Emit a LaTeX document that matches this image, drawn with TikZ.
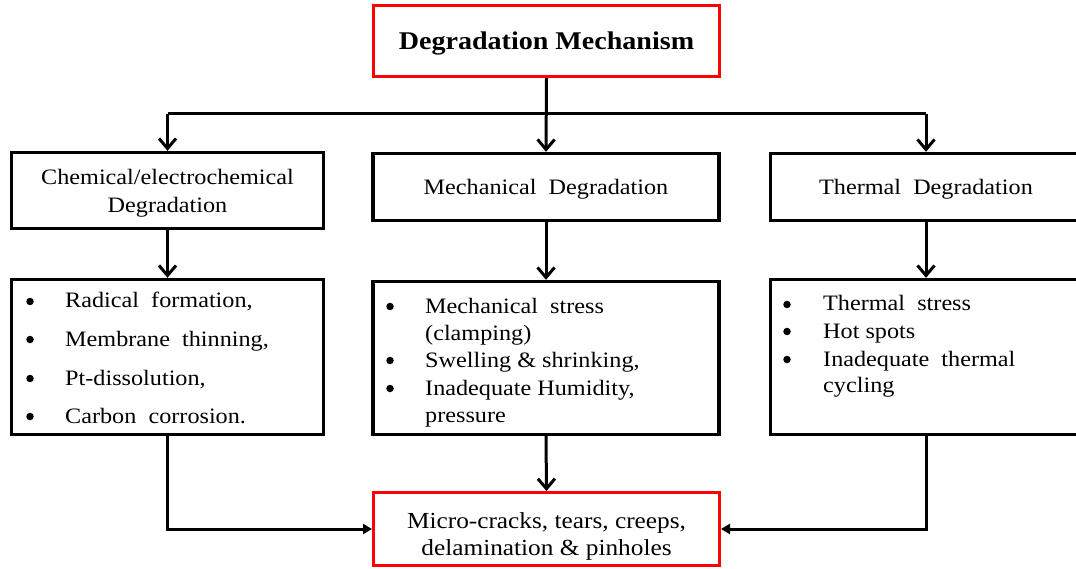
\documentclass[tikz,border=0pt]{standalone}
\usepackage{fontspec}
\usepackage{graphicx}
\setmainfont{Liberation Serif}
\usetikzlibrary{arrows.meta}

% text is set slightly wide
\newcommand\wide[1]{\scalebox{1.1}[1]{#1}}

\tikzset{
  box/.style={draw=black, line width=3.4pt, rectangle, inner sep=0pt, fill=white},
  redbox/.style={draw=red, line width=3pt, rectangle, inner sep=0pt, fill=white},
  txt/.style={inner sep=0pt, font=\fontsize{22}{27}\selectfont},
  dot/.style={circle, fill=black, inner sep=0pt, minimum size=7.5pt},
  conn/.style={line width=3pt},
  arr/.style={line width=3pt, -{Straight Barb[length=10pt,width=17pt]}},
  sidearr/.style={line width=3pt, -{Triangle[length=9pt,width=10pt]}},
}

\begin{document}
\begin{tikzpicture}[x=1pt, y=-1pt]
\path[use as bounding box, clip] (0,0) rectangle (1076,569);

% boxes
\node[redbox, minimum width=346pt, minimum height=71pt] (top) at (546.5,41) {};
\node[box, minimum width=312pt, minimum height=76pt] (chem) at (167.5,190.5) {};
\node[box, minimum width=346pt, minimum height=67pt] (mech) at (546,187) {};
\node[box, minimum width=311pt, minimum height=67pt] (therm) at (926,187) {};
\node[box, minimum width=312pt, minimum height=155pt] (chemlist) at (167.5,357) {};
\node[box, minimum width=346pt, minimum height=153pt] (mechlist) at (546,358) {};
\node[box, minimum width=311pt, minimum height=155pt] (thermlist) at (926,357) {};
\node[redbox, minimum width=346pt, minimum height=73pt] (result) at (546.5,529) {};

% titles
\node[inner sep=0pt, anchor=base, font=\fontsize{25.5}{30}\selectfont\bfseries] (ttop) at (546.5,50) {\wide{Degradation Mechanism}};
\node[txt, anchor=base] (tchem1) at (167.5,185) {\wide{Chemical/electrochemical}};
\node[txt, anchor=base] (tchem2) at (167.5,213) {\wide{Degradation}};
\node[txt, anchor=base] (tmech) at (546,195) {\wide{Mechanical\ \ Degradation}};
\node[txt, anchor=base] (ttherm) at (926,195) {\wide{Thermal\ \ Degradation}};

% chemical list
\foreach \yy/\t [count=\i] in {308/{Radical\ \ formation,}, 346/{Membrane\ \ thinning,}, 385/{Pt-dissolution,}, 423/{Carbon\ \ corrosion.}} {
  \node[dot] (cb\i) at (30,\yy-6.5) {};
  \node[txt, anchor=base west] (ci\i) at (65,\yy) {\wide{\t}};
}

% mechanical list
\node[dot] (mb1) at (390,306.5) {};
\node[txt, anchor=base west] (mi1) at (425,313) {\wide{Mechanical\ \ stress}};
\node[txt, anchor=base west] (mi1b) at (425,340) {\wide{(clamping)}};
\node[dot] (mb2) at (390,360.5) {};
\node[txt, anchor=base west] (mi2) at (425,367) {\wide{Swelling \& shrinking,}};
\node[dot] (mb3) at (390,388.5) {};
\node[txt, anchor=base west] (mi3) at (425,395) {\wide{Inadequate Humidity,}};
\node[txt, anchor=base west] (mi3b) at (425,422) {\wide{pressure}};

% thermal list
\node[dot] (tb1) at (787,304.5) {};
\node[txt, anchor=base west] (ti1) at (823,311) {\wide{Thermal\ \ stress}};
\node[dot] (tb2) at (787,331.5) {};
\node[txt, anchor=base west] (ti2) at (823,338) {\wide{Hot spots}};
\node[dot] (tb3) at (787,359.5) {};
\node[txt, anchor=base west] (ti3) at (823,366) {\wide{Inadequate\ \ thermal}};
\node[txt, anchor=base west] (ti3b) at (823,392) {\wide{cycling}};

% result text
\node[inner sep=0pt, anchor=base, font=\fontsize{23}{27}\selectfont] (tres1) at (546.5,528) {\wide{Micro-cracks, tears, creeps,}};
\node[inner sep=0pt, anchor=base, font=\fontsize{23}{27}\selectfont] (tres2) at (546.5,555) {\wide{delamination \& pinholes}};

% connectors
\coordinate (bus) at (0,114);
\draw[arr] (top.south) -- (mech.north);
\draw[conn] (chem.north |- bus) -- (therm.north |- bus);
\draw[arr] (chem.north |- bus) -- (chem.north);
\draw[arr] (therm.north |- bus) -- (therm.north);
\draw[arr] (chem.south) -- (chemlist.north);
\draw[arr] (mech.south) -- (mechlist.north);
\draw[arr] (therm.south) -- (thermlist.north);
\draw[arr] (mechlist.south) -- (result.north);
\draw[sidearr] (chemlist.south) |- (result.west);
\draw[sidearr] (thermlist.south) |- (result.east);
\end{tikzpicture}
\end{document}
